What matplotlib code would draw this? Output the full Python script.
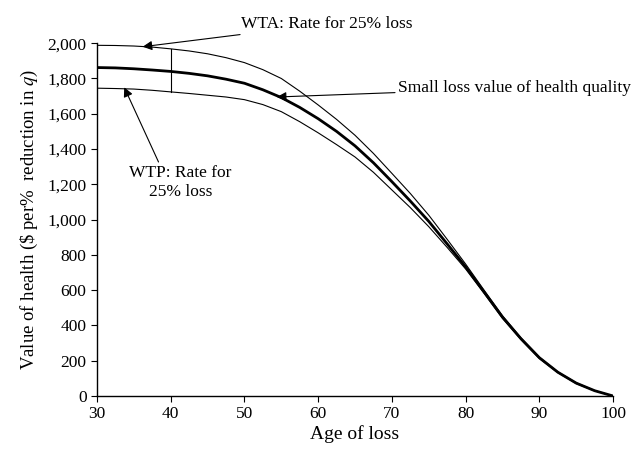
import matplotlib
matplotlib.use('Agg')
import matplotlib.pyplot as plt

plt.rcParams['font.family'] = ['Liberation Serif', 'DejaVu Serif']
plt.rcParams['mathtext.fontset'] = 'stix'

ages = [30, 32.5, 35, 37.5, 40, 42.5, 45, 47.5, 50, 52.5, 55, 57.5, 60, 62.5, 65,
        67.5, 70, 72.5, 75, 77.5, 80, 82.5, 85, 87.5, 90, 92.5, 95, 97.5, 100]
small_loss = [1862, 1860, 1855, 1848, 1840, 1829, 1815, 1796, 1773, 1736, 1692, 1636, 1572, 1500, 1418,
              1322, 1215, 1105, 990, 862, 732, 590, 447, 325, 217, 135, 73, 30, 0]
wta = [1988, 1987, 1984, 1978, 1968, 1956, 1940, 1918, 1890, 1850, 1800, 1728, 1650, 1568, 1478,
       1375, 1262, 1148, 1025, 888, 748, 600, 455, 330, 220, 137, 75, 31, 0]
wtp = [1745, 1743, 1740, 1733, 1724, 1715, 1705, 1695, 1680, 1652, 1612, 1555, 1492, 1425, 1355,
       1268, 1168, 1068, 960, 842, 720, 582, 440, 320, 212, 132, 70, 29, 0]

bar_age = 40
xticks = [30, 40, 50, 60, 70, 80, 90, 100]
yticks = list(range(0, 2001, 200))

fig = plt.figure(figsize=(6.42, 4.5), dpi=100)
ax = fig.add_axes([0.151, 0.12, 0.804, 0.784])

ax.plot(ages, wta, color='black', lw=0.8)
ax.plot(ages, wtp, color='black', lw=0.8)
ax.plot(ages, small_loss, color='black', lw=2.0)

i = ages.index(bar_age)
ax.plot([bar_age, bar_age], [wtp[i], wta[i]], color='black', lw=0.8)

ax.set_xlim(30, 100)
ax.set_ylim(0, 2000)
ax.set_xticks(xticks)
ax.set_yticks(yticks)
ax.set_yticklabels([f'{v:,}' for v in yticks])
ax.tick_params(direction='out', length=4, width=0.8, labelsize=12.5, colors='black')
for s in ['top', 'right']:
    ax.spines[s].set_visible(False)
for s in ['left', 'bottom']:
    ax.spines[s].set_linewidth(1.0)

ax.set_xlabel('Age of loss', fontsize=14, labelpad=2)
ax.set_ylabel(r'Value of health (\$ per%  reduction in $\mathit{q}$)', fontsize=13.5, labelpad=5)

arrow = dict(arrowstyle='-|>', color='black', lw=0.8, mutation_scale=14, shrinkA=0, shrinkB=0)
ax.annotate('WTA: Rate for 25% loss', xy=(36.2, 1980), xytext=(49.5, 2110),
            fontsize=12.5, ha='left', va='center', arrowprops=arrow, annotation_clip=False)
ax.annotate('Small loss value of health quality', xy=(54.4, 1695), xytext=(70.8, 1745),
            fontsize=12.5, ha='left', va='center', arrowprops=arrow, annotation_clip=False)
ax.annotate('WTP: Rate for\n25% loss', xy=(33.7, 1750), xytext=(41.3, 1210),
            fontsize=12.5, ha='center', va='center', linespacing=1.3,
            arrowprops=dict(arrow, relpos=(0.3, 1.0)), annotation_clip=False)

fig.savefig('out.png', dpi=100)
